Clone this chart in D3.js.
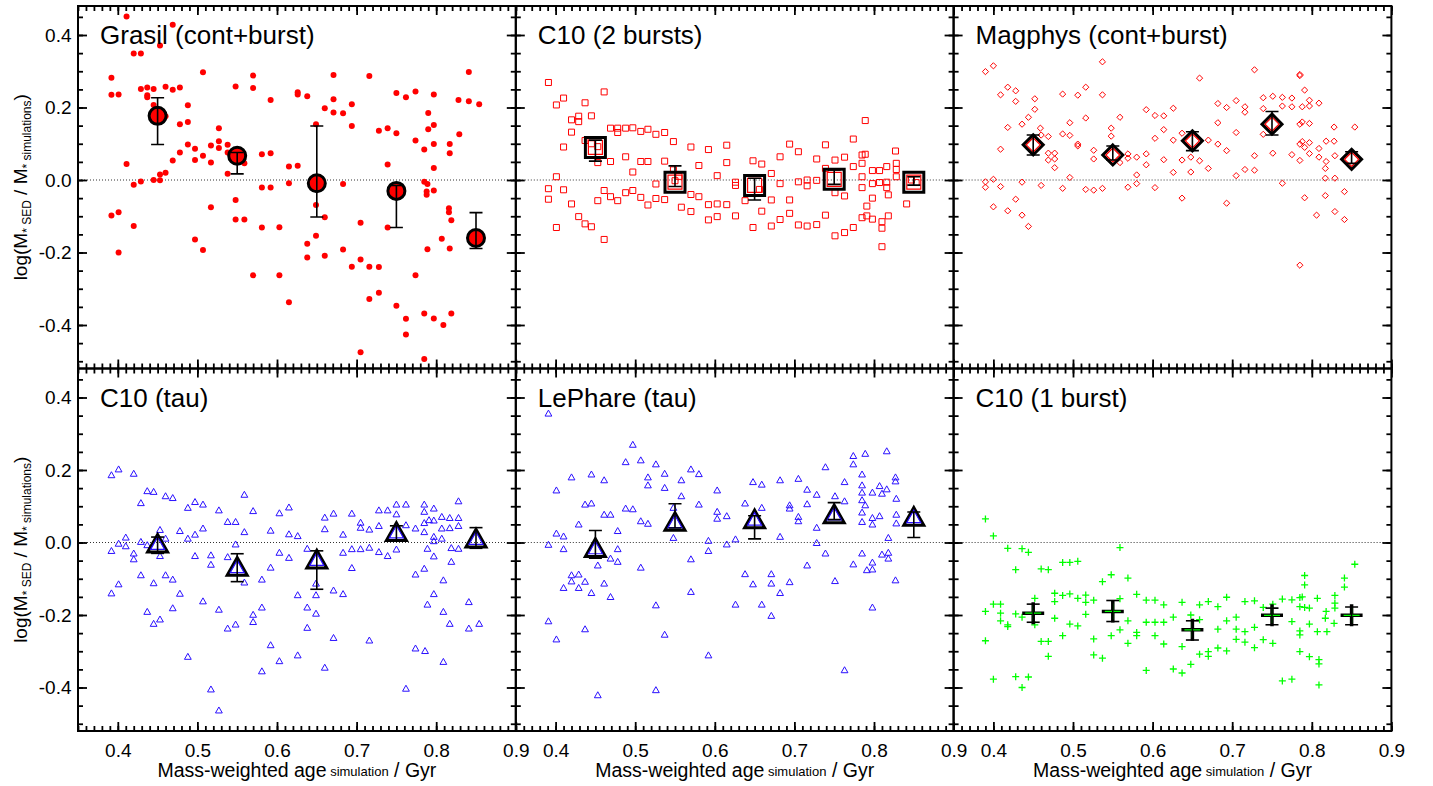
<!DOCTYPE html>
<html>
<head>
<meta charset="utf-8">
<script src="https://cdn.jsdelivr.net/npm/d3@7"></script>
<style>
  body { margin: 0; background: #fff; }
  text { font-family: "Liberation Sans", Arial, Helvetica, sans-serif; fill: #000; }
</style>
</head>
<body>
<svg id="chart" width="1433" height="786"></svg>
<script>
// panel titles, in reading order (top row then bottom row)
const panelNames = ['Grasil (cont+burst)', 'C10 (2 bursts)', 'Magphys (cont+burst)',
                    'C10 (tau)', 'LePhare (tau)', 'C10 (1 burst)']

// age bins used for the median points
const binAge = [0.45, 0.55, 0.65, 0.75, 0.85]

const xMajor = [0.4, 0.5, 0.6, 0.7, 0.8, 0.9]
const yMajor = [-0.4, -0.2, 0.0, 0.2, 0.4]

// [age, log(Msed/Msim)] per galaxy
const grasilPts = [[.411,.451],[.469,.428],[.453,.371],[.420,.349],[.429,.349],[.392,.282],[.392,.235],[.401,.236],[.507,.297],[.570,.288],[.570,.254],[.429,.251],[.437,.255],[.445,.251],[.437,.234],[.437,.228],[.460,.257],[.469,.249],[.478,.255],[.445,.207],[.488,.206],[.488,.160],[.478,.154],[.460,.176],[.488,.098],[.497,.086],[.478,.076],[.469,.054],[.497,.055],[.507,.067],[.517,.095],[.517,.048],[.527,.143],[.527,.107],[.527,.088],[.538,.097],[.538,.076],[.538,.017],[.548,.258],[.559,.046],[.548,-.055],[.548,-.109],[.559,-.109],[.517,-.075],[.497,-.164],[.507,-.193],[.460,.020],[.453,.015],[.445,.000],[.453,-.001],[.429,-.004],[.420,-.013],[.411,.044],[.392,-.098],[.401,-.089],[.420,-.127],[.401,-.200],[.581,.071],[.592,.074],[.592,.221],[.581,-.021],[.592,-.021],[.581,-.131],[.570,-.263],[.603,-.130],[.603,-.263],[.615,.037],[.626,.039],[.615,-.009],[.615,-.337],[.626,.242],[.626,.236],[.638,.231],[.649,.154],[.649,-.069],[.660,-.103],[.660,.198],[.638,-.176],[.649,-.154],[.638,-.214],[.660,-.209],[.671,.290],[.671,.223],[.671,.186],[.683,.184],[.683,-.011],[.683,-.192],[.694,.209],[.694,.149],[.694,-.239],[.705,-.118],[.705,-.219],[.705,-.475],[.716,.287],[.716,-.239],[.716,-.328],[.728,.136],[.728,-.240],[.728,-.311],[.739,.143],[.739,.043],[.739,-.131],[.750,.240],[.750,.129],[.750,-.347],[.762,.228],[.762,-.383],[.762,-.426],[.774,.244],[.774,.109],[.774,-.263],[.785,.084],[.785,-.005],[.789,-.011],[.788,-.032],[.788,-.041],[.785,-.368],[.785,-.494],[.786,-.530],[.790,.185],[.790,.140],[.797,.236],[.797,.152],[.797,.099],[.797,.033],[.797,-.029],[.789,-.191],[.797,-.382],[.809,-.400],[.807,-.162],[.817,.099],[.817,.074],[.819,-.111],[.816,-.078],[.816,-.089],[.817,-.189],[.819,-.368],[.828,.221],[.829,.126],[.841,.298],[.841,.217],[.854,.209]]
const grasilMed = [.177, .067, -.009, -.030, -.160]
const grasilLo  = [.098, .017, -.102, -.131, -.189]
const grasilHi  = [.227, .076, .149, -.015, -.090]

const c10bPts = [[.391,.269],[.401,.207],[.410,.226],[.437,.213],[.461,.243],[.420,.166],[.429,.176],[.429,.161],[.445,.177],[.420,.132],[.410,.091],[.437,.109],[.445,.100],[.453,.092],[.453,.048],[.469,.143],[.478,.143],[.478,.131],[.488,.143],[.497,.144],[.507,.134],[.516,.140],[.526,.126],[.537,.131],[.548,.106],[.570,.091],[.592,.084],[.615,.096],[.469,.051],[.488,.064],[.497,.022],[.507,.051],[.516,.051],[.537,.052],[.580,.040],[.615,.048],[.603,.012],[.401,.009],[.391,-.024],[.391,-.053],[.410,-.027],[.420,-.066],[.429,-.101],[.437,-.121],[.445,-.129],[.461,-.164],[.401,-.131],[.453,-.057],[.461,-.029],[.469,-.046],[.478,-.057],[.488,-.035],[.497,-.029],[.507,-.048],[.516,-.069],[.526,-.011],[.526,-.051],[.537,-.054],[.548,.028],[.558,-.075],[.570,-.040],[.570,-.087],[.580,-.046],[.592,-.068],[.592,-.110],[.603,-.066],[.603,-.101],[.615,-.068],[.626,-.006],[.626,-.015],[.626,-.099],[.638,-.057],[.648,.053],[.659,.044],[.659,-.086],[.648,-.131],[.656,-.026],[.671,.018],[.671,-.055],[.671,-.127],[.682,.064],[.682,-.010],[.682,-.109],[.694,.099],[.694,-.055],[.694,-.092],[.705,.078],[.705,-.005],[.705,-.124],[.716,.000],[.716,-.016],[.716,-.127],[.728,.058],[.728,-.001],[.728,-.123],[.739,.097],[.739,.032],[.739,-.097],[.751,.055],[.751,-.035],[.751,-.154],[.763,.063],[.763,-.044],[.763,-.145],[.774,.113],[.774,.037],[.774,-.131],[.785,.069],[.785,.046],[.785,.009],[.785,-.021],[.785,-.104],[.789,.164],[.789,.071],[.791,-.072],[.791,-.099],[.798,.026],[.798,-.010],[.798,-.050],[.798,-.108],[.807,.026],[.807,-.007],[.810,-.115],[.810,-.133],[.810,-.184],[.816,.037],[.816,-.006],[.816,-.021],[.818,-.041],[.818,-.099],[.827,.080],[.828,.046],[.828,.029],[.828,.009],[.841,-.066],[.847,.000],[.853,-.007],[.550,-.002],[.555,.010]]
const c10bMed = [.090, -.006, -.015, .002, -.006]
const c10bLo  = [.052, -.018, -.055, -.012, -.014]
const c10bHi  = [.110, .039, .005, .028, .009]

const magPts = [[.390,.299],[.400,.315],[.409,.235],[.418,.256],[.428,.246],[.428,.217],[.452,.224],[.452,.195],[.444,.173],[.436,.154],[.418,.145],[.409,.085],[.459,.143],[.469,.120],[.469,.074],[.477,.074],[.469,.055],[.477,.058],[.477,.034],[.460,.124],[.390,-.005],[.390,-.020],[.400,.002],[.409,-.018],[.400,-.074],[.418,-.085],[.428,-.053],[.436,-.006],[.436,-.097],[.444,-.128],[.460,-.015],[.487,.237],[.487,.127],[.496,.158],[.496,.123],[.506,.234],[.506,.099],[.506,.094],[.516,.256],[.516,.171],[.496,.007],[.487,-.023],[.516,-.026],[.526,-.028],[.537,-.023],[.537,.326],[.537,.235],[.526,.082],[.526,.058],[.548,.143],[.548,.121],[.559,.173],[.559,.048],[.569,.072],[.569,.060],[.569,-.020],[.580,.063],[.580,.014],[.580,-.010],[.592,.194],[.592,.072],[.592,.042],[.603,.178],[.603,.115],[.603,-.021],[.614,.177],[.614,.139],[.614,.056],[.626,.198],[.626,.110],[.626,.021],[.637,.129],[.637,.055],[.637,-.050],[.648,.063],[.648,.022],[.659,.281],[.659,.053],[.670,.110],[.670,.032],[.682,.211],[.682,.158],[.682,.099],[.693,.200],[.693,.081],[.693,-.064],[.705,.219],[.705,.131],[.705,.012],[.716,.202],[.716,.187],[.716,.029],[.728,.304],[.728,.067],[.728,.027],[.739,.227],[.739,.197],[.739,.126],[.751,.231],[.751,.074],[.763,.228],[.763,.204],[.763,-.009],[.775,.226],[.775,.202],[.775,.070],[.785,.291],[.785,.288],[.785,.154],[.785,.054],[.785,.099],[.785,-.235],[.788,.202],[.788,.160],[.788,.106],[.791,.248],[.791,.090],[.791,-.049],[.797,.220],[.797,.204],[.797,.156],[.797,.103],[.797,.073],[.809,.212],[.809,.087],[.809,.063],[.806,-.097],[.817,.032],[.817,.005],[.817,-.043],[.818,.107],[.818,.051],[.828,.146],[.828,.107],[.829,.067],[.829,.005],[.829,-.087],[.841,-.032],[.841,-.109],[.854,.146]]
const magMed = [.097, .069, .108, .154, .057]
const magLo  = [.069, .055, .081, .124, .046]
const magHi  = [.124, .094, .133, .189, .078]

const c10tPts = [[.392,.187],[.401,.203],[.420,.191],[.392,-.022],[.401,-.002],[.410,.015],[.410,-.009],[.420,-.029],[.420,-.045],[.429,.110],[.429,.003],[.437,.143],[.445,.141],[.437,-.006],[.392,-.139],[.401,-.114],[.429,-.089],[.437,-.190],[.445,-.111],[.445,-.223],[.453,-.211],[.453,.036],[.453,-.036],[.460,.129],[.469,.124],[.460,.012],[.460,-.089],[.469,-.101],[.469,-.180],[.478,.033],[.478,-.140],[.488,.097],[.488,.012],[.488,-.314],[.497,.113],[.497,.023],[.497,-.036],[.507,.106],[.507,.040],[.507,-.161],[.517,-.034],[.517,-.060],[.517,-.404],[.527,.090],[.527,-.184],[.527,-.462],[.538,.058],[.538,-.039],[.538,-.236],[.548,.058],[.548,-.004],[.548,-.225],[.559,.133],[.559,.030],[.559,-.109],[.570,.088],[.570,-.198],[.570,-.218],[.581,-.101],[.581,-.178],[.581,-.354],[.592,.034],[.592,-.068],[.592,-.282],[.603,.082],[.603,-.027],[.603,-.326],[.615,.098],[.615,.024],[.615,-.041],[.626,.019],[.626,-.144],[.626,-.310],[.638,-.016],[.638,-.178],[.638,-.234],[.649,-.112],[.649,-.144],[.649,-.195],[.660,.070],[.660,.038],[.660,-.344],[.671,.081],[.671,-.131],[.671,-.262],[.683,.023],[.683,-.027],[.683,-.141],[.694,.081],[.694,-.017],[.694,-.069],[.705,.056],[.705,.042],[.705,-.017],[.716,.037],[.716,-.013],[.716,-.269],[.728,.090],[.728,.047],[.728,-.025],[.739,.090],[.739,-.036],[.750,.106],[.750,.079],[.750,-.018],[.762,.106],[.762,.049],[.762,-.402],[.774,.040],[.774,-.087],[.774,-.291],[.785,.106],[.785,.086],[.785,.055],[.785,.030],[.785,-.071],[.786,-.298],[.789,-.016],[.789,-.170],[.791,.063],[.797,.095],[.797,.062],[.797,.017],[.797,.005],[.797,-.037],[.797,-.141],[.807,.072],[.807,.040],[.807,.012],[.809,-.103],[.809,-.190],[.809,-.328],[.817,.069],[.817,.041],[.819,-.014],[.819,-.052],[.817,-.223],[.828,.115],[.828,.069],[.828,.047],[.828,-.016],[.841,-.163],[.841,-.236],[.854,-.223]]
const c10tMed = [-.002, -.066, -.046, .030, .012]
const c10tLo  = [-.030, -.108, -.129, .005, -.016]
const c10tHi  = [.015, -.031, -.023, .046, .041]

const lepPts = [[.391,.357],[.401,.145],[.391,-.005],[.401,.026],[.410,.018],[.410,-.017],[.391,-.216],[.401,-.266],[.420,.181],[.429,.051],[.420,-.106],[.420,-.089],[.410,-.124],[.429,-.087],[.429,-.124],[.437,.106],[.437,-.107],[.437,-.238],[.445,.189],[.445,.109],[.445,-.138],[.453,-.062],[.453,-.420],[.461,.173],[.461,.078],[.461,-.112],[.469,.078],[.469,-.043],[.469,-.149],[.478,.033],[.478,-.017],[.478,-.052],[.488,.223],[.488,.095],[.497,.271],[.497,.093],[.507,.228],[.507,.060],[.507,-.068],[.516,.181],[.516,.159],[.516,.053],[.526,.217],[.526,-.172],[.526,-.406],[.537,.191],[.537,.152],[.537,-.253],[.548,.097],[.548,.014],[.558,.173],[.558,.129],[.570,.203],[.570,-.045],[.570,-.135],[.580,.190],[.580,.106],[.592,.006],[.592,-.022],[.592,-.310],[.603,.145],[.603,.086],[.603,.067],[.615,.074],[.615,-.004],[.626,.010],[.626,-.170],[.638,.109],[.638,-.086],[.648,.168],[.648,-.114],[.659,.161],[.659,.097],[.659,-.170],[.671,-.086],[.671,-.112],[.671,-.201],[.682,.173],[.682,.017],[.682,-.138],[.694,.104],[.694,.095],[.694,-.108],[.705,.177],[.705,.072],[.705,.060],[.716,.147],[.716,.107],[.716,-.062],[.728,.133],[.728,.042],[.728,.000],[.739,.209],[.739,-.029],[.751,.129],[.751,-.105],[.763,.168],[.763,.115],[.763,-.351],[.774,.240],[.774,.217],[.774,-.059],[.785,.189],[.785,.159],[.785,.139],[.785,.118],[.785,.084],[.785,.058],[.785,-.029],[.789,.246],[.789,.104],[.791,-.075],[.798,.139],[.798,.069],[.798,.051],[.798,-.054],[.798,-.073],[.798,-.178],[.807,.157],[.807,.074],[.810,.136],[.810,-.032],[.816,.253],[.816,.148],[.818,.014],[.818,-.027],[.818,-.043],[.827,.181],[.827,.170],[.828,.122],[.828,.078],[.828,.054],[.827,-.103]]
const lepMed = [-.014, .058, .065, .079, .072]
const lepLo  = [-.043, .040, .010, .063, .014]
const lepHi  = [.033, .107, .074, .110, .084]

const c10oPts = [[.390,.065],[.400,.018],[.390,-.190],[.390,-.271],[.400,-.170],[.400,-.377],[.409,-.170],[.409,-.195],[.409,-.216],[.418,-.016],[.418,-.227],[.418,-.232],[.428,-.075],[.428,-.197],[.428,-.370],[.436,-.017],[.436,-.400],[.444,-.027],[.444,-.371],[.436,-.206],[.452,-.154],[.452,-.227],[.460,-.073],[.469,-.075],[.460,-.273],[.469,-.273],[.469,-.314],[.477,-.140],[.477,-.163],[.477,-.209],[.487,-.055],[.487,-.146],[.487,-.257],[.496,-.055],[.496,-.142],[.496,-.225],[.506,-.052],[.506,-.154],[.506,-.230],[.516,-.145],[.516,-.165],[.516,-.198],[.526,-.159],[.526,-.266],[.526,-.310],[.537,-.108],[.537,-.319],[.548,-.089],[.548,-.257],[.559,-.014],[.559,-.155],[.559,-.241],[.569,-.098],[.569,-.216],[.569,-.278],[.580,-.143],[.580,-.248],[.580,-.257],[.592,-.159],[.592,-.220],[.592,-.353],[.603,-.159],[.603,-.220],[.603,-.257],[.614,-.172],[.614,-.220],[.614,-.280],[.626,-.206],[.626,-.349],[.637,-.165],[.637,-.287],[.637,-.360],[.648,-.200],[.648,-.336],[.659,-.172],[.659,-.213],[.659,-.308],[.670,-.163],[.670,-.301],[.670,-.314],[.682,-.177],[.682,-.239],[.682,-.291],[.693,-.151],[.693,-.216],[.693,-.299],[.705,-.206],[.705,-.239],[.705,-.267],[.716,-.163],[.716,-.246],[.716,-.275],[.728,-.161],[.728,-.234],[.728,-.290],[.739,-.179],[.739,-.268],[.751,-.170],[.751,-.278],[.763,-.156],[.763,-.382],[.775,-.158],[.775,-.218],[.775,-.377],[.785,-.152],[.785,-.177],[.788,-.150],[.785,-.244],[.785,-.255],[.785,-.301],[.791,-.091],[.791,-.117],[.791,-.179],[.797,-.181],[.797,-.225],[.797,-.315],[.807,-.154],[.807,-.246],[.809,-.323],[.809,-.335],[.809,-.393],[.817,-.209],[.818,-.190],[.819,-.246],[.829,-.146],[.829,-.167],[.829,-.181],[.828,-.223],[.841,-.098],[.841,-.123],[.854,-.060]]
const c10oMed = [-.195, -.190, -.241, -.201, -.201]
const c10oLo  = [-.220, -.218, -.269, -.227, -.227]
const c10oHi  = [-.170, -.160, -.216, -.181, -.178]

const red = '#ff0000', blue = '#2a10ff', green = '#00ff00'

const panels = [
  { pts: grasilPts, med: grasilMed, lo: grasilLo, hi: grasilHi, sym: 'circle',   color: red },
  { pts: c10bPts,   med: c10bMed,   lo: c10bLo,   hi: c10bHi,   sym: 'square',   color: red },
  { pts: magPts,    med: magMed,    lo: magLo,    hi: magHi,    sym: 'diamond',  color: red },
  { pts: c10tPts,   med: c10tMed,   lo: c10tLo,   hi: c10tHi,   sym: 'triangle', color: blue },
  { pts: lepPts,    med: lepMed,    lo: lepLo,    hi: lepHi,    sym: 'triangle', color: blue },
  { pts: c10oPts,   med: c10oMed,   lo: c10oLo,   hi: c10oHi,   sym: 'plus',     color: green },
]

const marginL = 78, marginT = 6, pw = 437.8, ph = 362.5
const svg = d3.select('#chart')

// symbol outline with half-size s, centred at 0,0
function symPath(type, s) {
  switch (type) {
    case 'circle':   return `M${s},0A${s},${s},0,1,1,${-s},0A${s},${s},0,1,1,${s},0Z`
    case 'square':   return `M${-s},${-s}H${s}V${s}H${-s}Z`
    case 'diamond':  return `M0,${-s}L${s},0L0,${s}L${-s},0Z`
    case 'triangle': return `M${-s},${s * 0.88}L0,${-s * 0.88}L${s},${s * 0.88}Z`
    case 'plus':     return `M${-s},0H${s}M0,${-s}V${s}`
  }
}
const smallSize = { circle: 3, square: 3, diamond: 3.1, triangle: 3.4, plus: 3.5 }

panels.forEach((p, i) => {
  const col = i % 3, row = Math.floor(i / 3)
  const x0 = marginL + col * pw, y0 = marginT + row * ph
  const x = d3.scaleLinear().domain([0.35, 0.9]).range([x0, x0 + pw])
  const y = d3.scaleLinear().domain([-0.52, 0.48]).range([y0 + ph, y0])
  const g = svg.append('g')

  g.append('clipPath').attr('id', 'clip' + i)
    .append('rect').attr('x', x0).attr('y', y0).attr('width', pw).attr('height', ph)

  // zero line
  g.append('line')
      .attr('x1', x0).attr('x2', x0 + pw).attr('y1', y(0)).attr('y2', y(0))
      .attr('stroke', '#333').attr('stroke-width', 1).attr('stroke-dasharray', '1,2')

  const plot = g.append('g').attr('clip-path', `url(#clip${i})`)
  const ss = smallSize[p.sym]
  plot.selectAll('.pt').data(p.pts).enter().append('path')
      .attr('class', 'pt')
      .attr('transform', d => `translate(${x(d[0])},${y(d[1])})`)
      .attr('d', symPath(p.sym, ss))
      .attr('fill', p.sym == 'circle' ? p.color : 'none')
      .attr('stroke', p.sym == 'circle' ? 'none' : p.color)
      .attr('stroke-width', p.sym == 'plus' ? 1.3 : 1)

  // median points per age bin
  const bins = binAge.map((a, k) => ({ a: a, m: p.med[k], lo: p.lo[k], hi: p.hi[k] }))
  const bigS = p.sym == 'circle' ? 8.5 : (p.sym == 'plus' ? 11 : 10)
  const big = plot.selectAll('.big').data(bins).enter().append('g')
      .attr('class', 'big')
      .attr('transform', d => `translate(${x(d.a)},${y(d.m)})`)
  big.append('path')
      .attr('d', symPath(p.sym, bigS))
      .attr('fill', p.sym == 'circle' ? p.color : 'none')
      .attr('stroke', '#000').attr('stroke-width', p.sym == 'plus' ? 3.5 : 3)
  if (p.sym != 'circle') {
    big.append('path')
        .attr('d', symPath(p.sym, bigS - 3))
        .attr('fill', 'none').attr('stroke', p.color).attr('stroke-width', 1.2)
  }
  // error bars
  const eb = plot.selectAll('.eb').data(bins).enter().append('g')
      .attr('class', 'eb').attr('stroke', '#000').attr('stroke-width', 1.6)
  eb.append('line').attr('x1', d => x(d.a)).attr('x2', d => x(d.a))
      .attr('y1', d => y(d.lo)).attr('y2', d => y(d.hi))
  eb.append('line').attr('x1', d => x(d.a) - 6.5).attr('x2', d => x(d.a) + 6.5)
      .attr('y1', d => y(d.lo)).attr('y2', d => y(d.lo))
  eb.append('line').attr('x1', d => x(d.a) - 6.5).attr('x2', d => x(d.a) + 6.5)
      .attr('y1', d => y(d.hi)).attr('y2', d => y(d.hi))

  // ticks on all four sides, pointing inward
  const xMinor = d3.range(35, 91).map(v => v / 100)
  const yMinor = d3.range(-10, 10).map(v => v * 0.05)
  const axisStyle = a => {
    a.select('.domain').remove()
    a.selectAll('line').attr('stroke-width', 1.8)
    a.attr('font-size', 19).attr('font-family', null)
  }
  g.append('g').attr('transform', `translate(0,${y0 + ph})`)
      .call(d3.axisBottom(x).tickValues(xMinor).tickSize(-5).tickFormat('')).call(axisStyle)
  g.append('g').attr('transform', `translate(0,${y0})`)
      .call(d3.axisTop(x).tickValues(xMinor).tickSize(-5).tickFormat('')).call(axisStyle)
  g.append('g').attr('transform', `translate(${x0},0)`)
      .call(d3.axisLeft(y).tickValues(yMinor).tickSize(-5).tickFormat('')).call(axisStyle)
  g.append('g').attr('transform', `translate(${x0 + pw},0)`)
      .call(d3.axisRight(y).tickValues(yMinor).tickSize(-5).tickFormat('')).call(axisStyle)

  g.append('g').attr('transform', `translate(0,${y0 + ph})`)
      .call(d3.axisBottom(x).tickValues(xMajor).tickSize(-9).tickPadding(12.5)
        .tickFormat(row == 1 ? d => d.toFixed(1) : '')).call(axisStyle)
  g.append('g').attr('transform', `translate(0,${y0})`)
      .call(d3.axisTop(x).tickValues(xMajor).tickSize(-9).tickFormat('')).call(axisStyle)
  g.append('g').attr('transform', `translate(${x0},0)`)
      .call(d3.axisLeft(y).tickValues(yMajor).tickSize(-9).tickPadding(6.5)
        .tickFormat(col == 0 ? d => d.toFixed(1) : '')).call(axisStyle)
  g.append('g').attr('transform', `translate(${x0 + pw},0)`)
      .call(d3.axisRight(y).tickValues(yMajor).tickSize(-9).tickFormat('')).call(axisStyle)

  g.append('rect').attr('x', x0).attr('y', y0).attr('width', pw).attr('height', ph)
      .attr('fill', 'none').attr('stroke', '#000').attr('stroke-width', 2)

  g.append('text').attr('x', x0 + 22).attr('y', y0 + 38)
      .attr('font-size', 26).text(panelNames[i])

  if (row == 1) {
    const t = g.append('text').attr('x', x0 + pw / 2).attr('y', 777)
        .attr('text-anchor', 'middle').attr('font-size', 19.5)
    t.append('tspan').text('Mass-weighted age')
    t.append('tspan').attr('font-size', 13).attr('dy', -1).text(' simulation')
    t.append('tspan').attr('dy', 1).text(' / Gyr')
  }
  if (col == 0) {
    const t = g.append('text')
        .attr('transform', `translate(27,${y0 + ph / 2}) rotate(-90)`)
        .attr('text-anchor', 'middle').attr('font-size', 19)
    t.append('tspan').text('log(M')
    t.append('tspan').attr('font-size', 12).attr('dy', 3.5).text('*')
    t.append('tspan').attr('font-size', 12).attr('dy', 0).text(' SED')
    t.append('tspan').attr('dy', -3.5).text(' / M')
    t.append('tspan').attr('font-size', 12).attr('dy', 3.5).text('*')
    t.append('tspan').attr('font-size', 12).attr('dy', 0).text(' simulations')
    t.append('tspan').attr('dy', -3.5).text(')')
  }
})
</script>
</body>
</html>
